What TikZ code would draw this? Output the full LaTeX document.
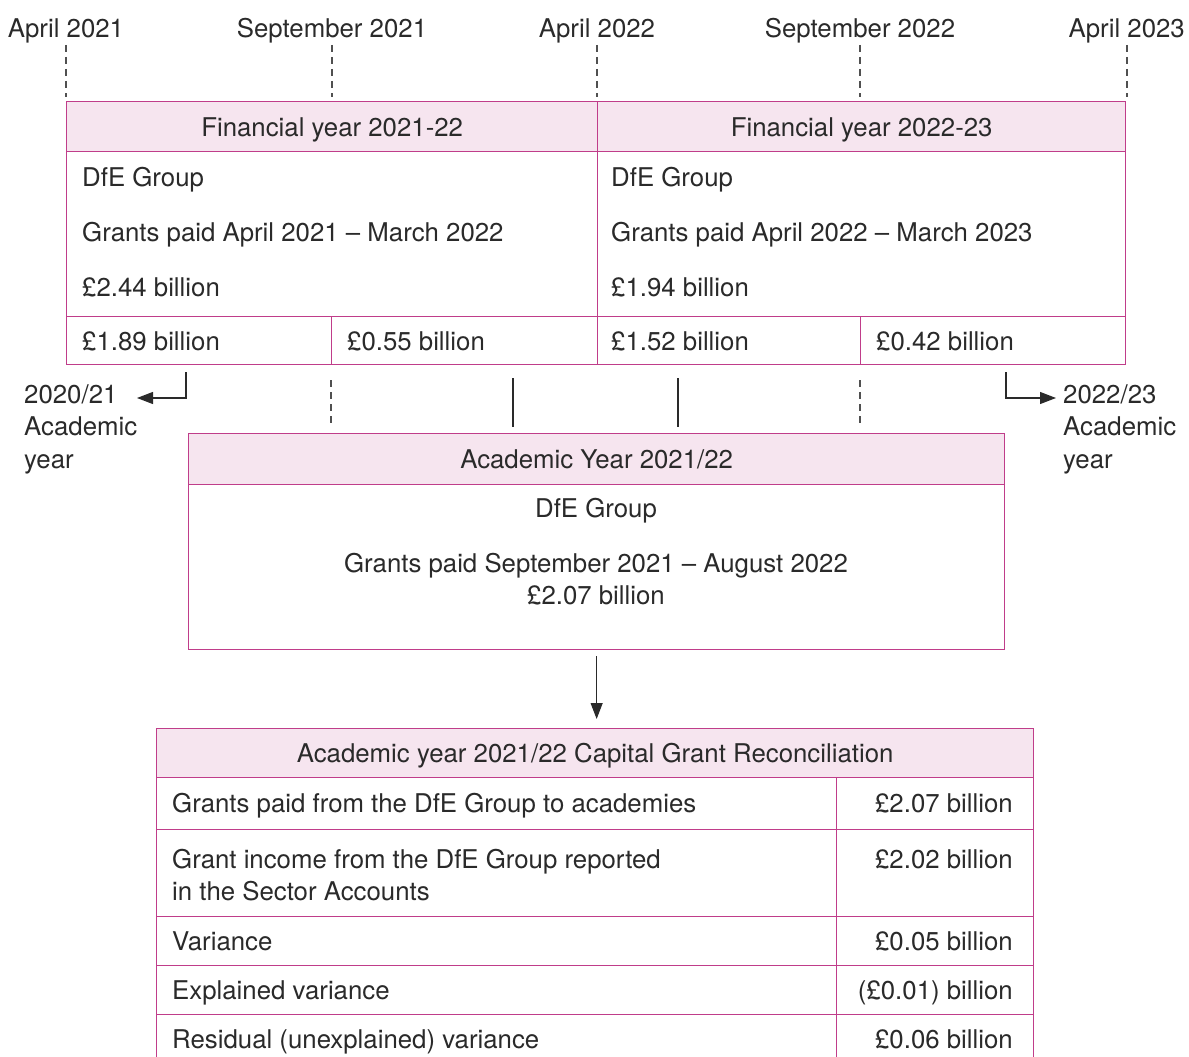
\documentclass[tikz,border=0pt]{standalone}
\usepackage{fontspec}
\setmainfont{TeX Gyre Heros}
\usetikzlibrary{arrows.meta}
\definecolor{bord}{HTML}{C03D8A}
\definecolor{pinkfill}{HTML}{F6E5EF}
\definecolor{txt}{HTML}{2A2A2A}
\definecolor{dashgrey}{HTML}{505050}
\begin{document}
\begin{tikzpicture}[x=1pt,y=-1pt,
  every node/.style={font=\fontsize{25.8}{30}\selectfont, text=txt, inner sep=0pt, text height=19pt, text depth=0pt},
  cell/.style={draw=bord, line width=1.3pt, anchor=north west, fill=white},
  head/.style={cell, fill=pinkfill},
  lt/.style={anchor=west},
  rt/.style={anchor=east},
  tick/.style={draw=dashgrey, line width=1.3pt, dash pattern=on 7pt off 5pt},
  solid line/.style={draw=txt, line width=1.3pt},
  arr/.style={draw=txt, line width=1.1pt, -{Triangle[length=16pt,width=12pt]}}]
\useasboundingbox (0,0) rectangle (1189,1057);

% top date labels
\node (d1) at (66,28) {April 2021};
\node (d2) at (332,28) {September 2021};
\node (d3) at (597,28) {April 2022};
\node (d4) at (860,28) {September 2022};
\node[anchor=east] (d5) at (1185,28) {April 2023};
\coordinate (t1) at (66,45);  \coordinate (b1) at (66,97);
\coordinate (t2) at (332,45); \coordinate (b2) at (332,97);
\coordinate (t3) at (597,45); \coordinate (b3) at (597,97);
\coordinate (t4) at (860,45); \coordinate (b4) at (860,97);
\coordinate (t5) at (1127,45);\coordinate (b5) at (1127,97);
\foreach \i in {1,...,5} \draw[tick] (t\i) -- (b\i);

% financial year boxes
\node[head, minimum width=531pt, minimum height=50pt] (fy1h) at (66,101) {Financial year 2021-22};
\node[head, minimum width=528pt, minimum height=50pt] (fy2h) at (597,101) {Financial year 2022-23};
\node[cell, minimum width=531pt, minimum height=165pt] (fy1b) at (66,151) {};
\node[cell, minimum width=528pt, minimum height=165pt] (fy2b) at (597,151) {};
\node[lt] at (82,177) {DfE Group};
\node[lt] at (82,232) {Grants paid April 2021 – March 2022};
\node[lt] at (82,287) {£2.44 billion};
\node[lt] at (611,177) {DfE Group};
\node[lt] at (611,232) {Grants paid April 2022 – March 2023};
\node[lt] at (611,287) {£1.94 billion};
\node[cell, minimum width=265pt, minimum height=48pt] (c1) at (66,316) {};
\node[cell, minimum width=266pt, minimum height=48pt] (c2) at (331,316) {};
\node[cell, minimum width=263pt, minimum height=48pt] (c3) at (597,316) {};
\node[cell, minimum width=265pt, minimum height=48pt] (c4) at (860,316) {};
\node[lt] at (82,341) {£1.89 billion};
\node[lt] at (347,341) {£0.55 billion};
\node[lt] at (611,341) {£1.52 billion};
\node[lt] at (876,341) {£0.42 billion};

% side academic year labels
\node[anchor=west] (ay1) at (24,394) {2020/21};
\node[anchor=west] at (24,426) {Academic};
\node[anchor=west] at (24,459) {year};
\node[anchor=west] (ay3) at (1063,394) {2022/23};
\node[anchor=west] at (1063,426) {Academic};
\node[anchor=west] at (1063,459) {year};
\coordinate (s1) at (186,372); \coordinate (e1) at (137,398);
\coordinate (s3) at (1006,372); \coordinate (e3) at (1056,398);
\draw[arr] (s1) |- (e1);
\draw[arr] (s3) |- (e3);

% academic year box
\node[head, minimum width=816pt, minimum height=51pt] (mh) at (188,433) {Academic Year 2021/22};
\node[cell, minimum width=816pt, minimum height=165pt] (mb) at (188,484) {};
\node at (596,508) {DfE Group};
\node at (596,563) {Grants paid September 2021 – August 2022};
\node at (596,595) {£2.07 billion};

% links between boxes
\draw[tick] (331,380) -- (331,427);
\draw[tick] (860,380) -- (860,427);
\draw[solid line] (513,378) -- (513,427);
\draw[solid line] (678,378) -- (678,427);

% reconciliation header and arrow
\node[head, minimum width=877pt, minimum height=49pt] (bh) at (156,728) {Academic year 2021/22 Capital Grant Reconciliation};
\draw[arr] ([yshift=-6pt]mb.south) -- ([yshift=9pt]mb.south |- bh.north);

% reconciliation table
\node[cell, minimum width=680pt, minimum height=52pt] (r1l) at (156,777) {};
\node[cell, minimum width=197pt, minimum height=52pt] (r1r) at (836,777) {};
\node[cell, minimum width=680pt, minimum height=87pt] (r2l) at (156,829) {};
\node[cell, minimum width=197pt, minimum height=87pt] (r2r) at (836,829) {};
\node[cell, minimum width=680pt, minimum height=49pt] (r3l) at (156,916) {};
\node[cell, minimum width=197pt, minimum height=49pt] (r3r) at (836,916) {};
\node[cell, minimum width=680pt, minimum height=49pt] (r4l) at (156,965) {};
\node[cell, minimum width=197pt, minimum height=49pt] (r4r) at (836,965) {};
\node[cell, minimum width=680pt, minimum height=60pt] (r5l) at (156,1014) {};
\node[cell, minimum width=197pt, minimum height=60pt] (r5r) at (836,1014) {};

\node[lt] at (172,803) {Grants paid from the DfE Group to academies};
\node[rt] at (1013,803) {£2.07 billion};
\node[lt] at (172,859) {Grant income from the DfE Group reported};
\node[lt] at (172,891) {in the Sector Accounts};
\node[rt] at (1013,859) {£2.02 billion};
\node[lt] at (172,941) {Variance};
\node[rt] at (1013,941) {£0.05 billion};
\node[lt] at (172,990) {Explained variance};
\node[rt] at (1013,990) {(£0.01) billion};
\node[lt] at (172,1039) {Residual (unexplained) variance};
\node[rt] at (1013,1039) {£0.06 billion};
\end{tikzpicture}
\end{document}
